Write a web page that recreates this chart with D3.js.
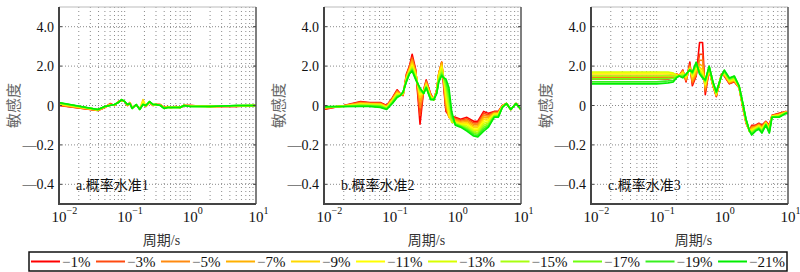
<!DOCTYPE html>
<html>
<head>
<meta charset="utf-8">
<script src="https://cdn.jsdelivr.net/npm/d3@7"></script>
<style>
  html, body { margin: 0; padding: 0; background: #fff; }
  svg { display: block; }
  text { font-family: "Liberation Serif", "Noto Sans CJK SC", serif; }
</style>
</head>
<body>
<div id="chartDiv"></div>
<script>
// probability levels and their colours (red -> yellow -> green)
const levelNames = ["1%", "3%", "5%", "7%", "9%", "11%", "13%", "15%", "17%", "19%", "21%"];
const levelColors = ["#ff0000", "#ff4a10", "#ff8a10", "#ffb000", "#ffd800", "#ffff00", "#d8ff00", "#a8ff10", "#70ff10", "#38f020", "#00ee00"];

const panelTitles = ["a.概率水准1", "b.概率水准2", "c.概率水准3"];
const yTickValues = [-4, -2, 0, 2, 4];
const yTickLabels = ["—0.4", "—0.2", "0", "2.0", "4.0"];
const xTickExps = [-2, -1, 0, 1];

// panel a
const periodsA = [0.01, 0.039, 0.05, 0.06, 0.07, 0.08, 0.09, 0.1, 0.11, 0.12, 0.13, 0.15, 0.17, 0.19, 0.21, 0.24, 0.27, 0.3, 0.35, 0.4, 0.45, 0.5, 0.6, 0.7, 0.8, 1.0, 2, 5, 10];
const sensA = [
  [0.00,-0.25,-0.10, 0.10, 0.00, 0.20, 0.25, 0.20, 0.00, 0.15,-0.10, 0.00,-0.15, 0.10,-0.05, 0.15, 0.00, 0.05, 0.05,-0.10,-0.05,-0.10,-0.05,-0.10, 0.00, 0.00,-0.05,-0.05, 0.00],
  [0.01,-0.25,-0.10, 0.08, 0.00, 0.20, 0.25, 0.20, 0.00, 0.15,-0.10, 0.00,-0.15, 0.10,-0.05, 0.15, 0.00, 0.05, 0.05,-0.10,-0.05,-0.10,-0.05,-0.10, 0.00, 0.00,-0.05,-0.05, 0.00],
  [0.03,-0.24,-0.09, 0.06, 0.01, 0.19, 0.26, 0.20, 0.01, 0.14,-0.11, 0.01,-0.16, 0.09,-0.04, 0.16, 0.01, 0.05, 0.04,-0.11,-0.06,-0.10,-0.06,-0.10, 0.00, 0.00,-0.05,-0.04, 0.00],
  [0.05,-0.24,-0.08, 0.05, 0.02, 0.18, 0.27, 0.20, 0.02, 0.13,-0.12, 0.02,-0.17, 0.08,-0.03, 0.17, 0.02, 0.05, 0.03,-0.12,-0.07,-0.10,-0.07,-0.10, 0.00,-0.01,-0.05,-0.03, 0.00],
  [0.07,-0.23,-0.07, 0.04, 0.03, 0.18, 0.28, 0.20, 0.03, 0.12,-0.13, 0.03,-0.18, 0.30,-0.02, 0.18, 0.03, 0.05, 0.02,-0.13,-0.08,-0.10,-0.08,-0.10, 0.00,-0.02,-0.05,-0.02, 0.00],
  [0.09,-0.22,-0.06, 0.03, 0.03, 0.17, 0.28, 0.20, 0.03, 0.12,-0.13, 0.03,-0.18, 0.20,-0.02, 0.18, 0.03, 0.05, 0.02,-0.13,-0.08,-0.10,-0.08,-0.10, 0.00,-0.03,-0.05,-0.02, 0.00],
  [0.10,-0.22,-0.06, 0.02, 0.04, 0.16, 0.29, 0.20, 0.04, 0.11,-0.14, 0.04,-0.19, 0.08,-0.01, 0.19, 0.04, 0.05, 0.01,-0.14,-0.09,-0.10,-0.09,-0.10, 0.00,-0.04,-0.05,-0.01, 0.00],
  [0.12,-0.21,-0.05, 0.01, 0.04, 0.16, 0.29, 0.20, 0.04, 0.11,-0.14, 0.04,-0.19, 0.07,-0.01, 0.19, 0.04, 0.05, 0.01,-0.14,-0.09,-0.10,-0.09,-0.10, 0.00,-0.04,-0.05,-0.01, 0.00],
  [0.13,-0.21,-0.05, 0.01, 0.05, 0.15, 0.30, 0.20, 0.05, 0.10,-0.15, 0.05,-0.20, 0.06, 0.00, 0.20, 0.05, 0.05, 0.00,-0.15,-0.10,-0.10,-0.10,-0.10, 0.00,-0.05,-0.05, 0.00, 0.00],
  [0.14,-0.20,-0.05, 0.00, 0.05, 0.15, 0.30, 0.20, 0.05, 0.10,-0.15, 0.05,-0.20, 0.05, 0.00, 0.20, 0.05, 0.05, 0.00,-0.15,-0.10,-0.10,-0.10,-0.10, 0.00,-0.05,-0.05, 0.00, 0.00],
  [0.15,-0.20,-0.05, 0.00, 0.05, 0.15, 0.30, 0.20, 0.05, 0.10,-0.15, 0.05,-0.20, 0.05, 0.00, 0.20, 0.05, 0.05, 0.00,-0.15,-0.10,-0.10,-0.10,-0.10, 0.00,-0.05,-0.05, 0.00, 0.00]
];

// panel b
const periodsB = [0.01, 0.02, 0.036, 0.05, 0.072, 0.09, 0.11, 0.13, 0.145, 0.16, 0.18, 0.2, 0.22, 0.25, 0.29, 0.33, 0.36, 0.42, 0.47, 0.52, 0.56, 0.62, 0.67, 0.72, 0.8, 0.88, 1.0, 1.2, 1.5, 1.9, 2.2, 2.7, 3.2, 3.9, 4.5, 5.2, 6.0, 7.0, 8.4, 10];
const sensB = [
  [-0.20, 0.00, 0.20, 0.15, 0.15, 0.00, 0.40, 0.80, 0.60, 0.50, 1.60, 2.00, 2.60, 1.80,-0.95, 0.80, 1.30, 0.60, 0.30, 0.80, 1.60, 2.20, 0.80,-0.30,-0.50,-0.55,-0.60,-0.70,-0.60,-0.80,-0.80,-0.30,-0.40,-0.30,-0.30, 0.00, 0.10,-0.20, 0.10,-0.20],
  [-0.17,-0.01, 0.17, 0.13, 0.12,-0.02, 0.37, 0.76, 0.59, 0.52, 1.55, 1.95, 2.45, 1.75,-0.50, 0.78, 1.25, 0.57, 0.30, 0.78, 1.62, 2.20, 0.95,-0.20,-0.55,-0.60,-0.65,-0.75,-0.67,-0.88,-0.88,-0.40,-0.47,-0.33,-0.33,-0.01, 0.10,-0.20, 0.10,-0.20],
  [-0.15,-0.02, 0.14, 0.11, 0.10,-0.04, 0.34, 0.72, 0.58, 0.54, 1.50, 1.90, 2.35, 1.70,-0.10, 0.75, 1.20, 0.54, 0.30, 0.76, 1.64, 2.20, 1.10,-0.05,-0.60,-0.65,-0.70,-0.80,-0.74,-0.96,-0.96,-0.50,-0.54,-0.36,-0.36,-0.02, 0.10,-0.20, 0.10,-0.20],
  [-0.13,-0.02, 0.11, 0.09, 0.08,-0.06, 0.31, 0.68, 0.57, 0.56, 1.45, 1.85, 2.25, 1.65, 0.20, 0.72, 1.15, 0.51, 0.30, 0.74, 1.62, 2.15, 1.20, 0.15,-0.60,-0.70,-0.75,-0.85,-0.81,-1.04,-1.04,-0.60,-0.61,-0.39,-0.39,-0.03, 0.10,-0.20, 0.10,-0.20],
  [-0.11,-0.03, 0.08, 0.07, 0.06,-0.08, 0.28, 0.64, 0.56, 0.58, 1.40, 1.80, 2.15, 1.60, 0.40, 0.70, 1.10, 0.48, 0.30, 0.72, 1.58, 2.05, 1.28, 0.35,-0.55,-0.75,-0.80,-0.90,-0.88,-1.12,-1.12,-0.70,-0.68,-0.42,-0.42,-0.04, 0.10,-0.20, 0.10,-0.20],
  [-0.10,-0.03, 0.06, 0.05, 0.04,-0.10, 0.25, 0.60, 0.55, 0.60, 1.36, 1.75, 2.05, 1.55, 0.55, 0.68, 1.05, 0.45, 0.30, 0.70, 1.50, 1.95, 1.32, 0.55,-0.40,-0.80,-0.85,-0.95,-0.95,-1.20,-1.20,-0.80,-0.75,-0.45,-0.45,-0.05, 0.10,-0.20, 0.10,-0.20],
  [-0.09,-0.04, 0.04, 0.03, 0.02,-0.12, 0.22, 0.56, 0.54, 0.62, 1.32, 1.71, 1.97, 1.48, 0.65, 0.66, 1.01, 0.41, 0.30, 0.68, 1.42, 1.85, 1.35, 0.75,-0.20,-0.85,-0.88,-0.98,-1.03,-1.27,-1.29,-0.90,-0.83,-0.49,-0.49,-0.06, 0.10,-0.20, 0.10,-0.20],
  [-0.08,-0.04, 0.02, 0.01, 0.00,-0.14, 0.19, 0.52, 0.53, 0.64, 1.29, 1.68, 1.90, 1.42, 0.72, 0.64, 0.97, 0.38, 0.30, 0.66, 1.35, 1.75, 1.37, 0.95, 0.10,-0.75,-0.91,-1.01,-1.11,-1.34,-1.38,-1.00,-0.90,-0.52,-0.52,-0.07, 0.10,-0.20, 0.10,-0.20],
  [-0.07,-0.05, 0.00,-0.01,-0.03,-0.16, 0.16, 0.48, 0.52, 0.66, 1.26, 1.65, 1.84, 1.37, 0.79, 0.62, 0.94, 0.35, 0.30, 0.64, 1.29, 1.65, 1.38, 1.10, 0.40,-0.60,-0.94,-1.04,-1.18,-1.41,-1.46,-1.10,-0.97,-0.55,-0.55,-0.08, 0.10,-0.20, 0.10,-0.20],
  [-0.06,-0.05,-0.03,-0.03,-0.07,-0.18, 0.13, 0.44, 0.51, 0.68, 1.23, 1.62, 1.79, 1.33, 0.85, 0.61, 0.92, 0.32, 0.30, 0.62, 1.24, 1.57, 1.39, 1.25, 0.65,-0.45,-0.97,-1.07,-1.24,-1.48,-1.53,-1.20,-1.04,-0.58,-0.58,-0.09, 0.10,-0.20, 0.10,-0.20],
  [-0.05,-0.05,-0.05,-0.05,-0.10,-0.20, 0.10, 0.40, 0.50, 0.70, 1.20, 1.60, 1.75, 1.30, 0.90, 0.60, 0.90, 0.30, 0.30, 0.60, 1.20, 1.50, 1.40, 1.35, 0.90,-0.30,-1.00,-1.10,-1.30,-1.55,-1.60,-1.30,-1.10,-0.60,-0.60,-0.10, 0.10,-0.20, 0.10,-0.20]
];

// panel c
const periodsC = [0.01, 0.05, 0.1, 0.15, 0.18, 0.2, 0.22, 0.25, 0.28, 0.32, 0.35, 0.4, 0.45, 0.5, 0.55, 0.63, 0.72, 0.81, 0.97, 1.07, 1.28, 1.52, 1.8, 2.0, 2.3, 2.6, 2.8, 3.2, 3.6, 4.0, 4.6, 5.2, 5.7, 7.3, 9.3, 10];
const sensC = [
  [1.35, 1.35, 1.35, 1.35, 1.40, 1.60, 1.50, 1.80, 1.20, 2.20, 1.00, 1.50, 3.20, 3.20, 0.55, 1.80, 1.00, 0.45, 1.60, 1.50, 1.10, 1.20, 0.90, 0.10,-0.90,-1.30,-1.00,-1.00,-0.90,-1.00,-0.80,-1.00,-0.50,-0.40,-0.30,-0.40],
  [1.40, 1.40, 1.40, 1.40, 1.43, 1.60, 1.50, 1.78, 1.25, 2.10, 1.10, 1.55, 2.60, 2.60, 0.70, 1.82, 1.00, 0.48, 1.58, 1.52, 1.12, 1.22, 0.91, 0.12,-0.88,-1.30,-1.05,-1.03,-0.93,-1.04,-0.82,-1.04,-0.51,-0.42,-0.31,-0.40],
  [1.45, 1.45, 1.45, 1.45, 1.46, 1.60, 1.50, 1.75, 1.30, 2.00, 1.20, 1.60, 2.30, 2.30, 0.80, 1.84, 1.02, 0.50, 1.57, 1.55, 1.15, 1.25, 0.92, 0.14,-0.86,-1.30,-1.10,-1.06,-0.96,-1.08,-0.84,-1.08,-0.52,-0.44,-0.32,-0.40],
  [1.50, 1.50, 1.50, 1.50, 1.50, 1.58, 1.50, 1.72, 1.35, 1.95, 1.30, 1.70, 2.10, 2.00, 0.90, 1.86, 1.04, 0.53, 1.56, 1.58, 1.18, 1.28, 0.93, 0.16,-0.84,-1.30,-1.15,-1.09,-0.99,-1.12,-0.86,-1.12,-0.53,-0.46,-0.33,-0.40],
  [1.60, 1.60, 1.60, 1.60, 1.58, 1.56, 1.50, 1.68, 1.40, 1.90, 1.40, 1.80, 1.95, 1.80, 1.00, 1.88, 1.06, 0.56, 1.55, 1.61, 1.21, 1.31, 0.94, 0.18,-0.82,-1.30,-1.20,-1.12,-1.02,-1.16,-0.88,-1.16,-0.54,-0.48,-0.34,-0.40],
  [1.65, 1.65, 1.65, 1.65, 1.62, 1.54, 1.50, 1.64, 1.45, 1.87, 1.48, 1.90, 1.85, 1.66, 1.08, 1.90, 1.08, 0.59, 1.54, 1.64, 1.24, 1.34, 0.95, 0.20,-0.80,-1.30,-1.25,-1.15,-1.05,-1.20,-0.90,-1.20,-0.55,-0.50,-0.35,-0.40],
  [1.70, 1.70, 1.70, 1.70, 1.65, 1.52, 1.50, 1.60, 1.48, 1.85, 1.55, 2.00, 1.78, 1.56, 1.14, 1.92, 1.10, 0.62, 1.53, 1.67, 1.27, 1.37, 0.96, 0.22,-0.78,-1.30,-1.30,-1.18,-1.08,-1.24,-0.92,-1.24,-0.56,-0.52,-0.36,-0.40],
  [1.50, 1.50, 1.50, 1.52, 1.50, 1.48, 1.50, 1.55, 1.52, 1.83, 1.60, 2.08, 1.72, 1.50, 1.20, 1.94, 1.13, 0.64, 1.52, 1.70, 1.31, 1.41, 0.97, 0.24,-0.76,-1.30,-1.35,-1.21,-1.11,-1.28,-0.94,-1.28,-0.57,-0.54,-0.37,-0.40],
  [1.35, 1.35, 1.35, 1.37, 1.38, 1.45, 1.50, 1.50, 1.55, 1.82, 1.64, 2.13, 1.67, 1.46, 1.24, 1.96, 1.16, 0.66, 1.51, 1.73, 1.35, 1.45, 0.98, 0.26,-0.74,-1.30,-1.40,-1.24,-1.14,-1.32,-0.96,-1.32,-0.58,-0.56,-0.38,-0.40],
  [1.20, 1.20, 1.20, 1.25, 1.28, 1.42, 1.50, 1.45, 1.58, 1.81, 1.67, 2.17, 1.63, 1.43, 1.27, 1.98, 1.18, 0.68, 1.50, 1.77, 1.38, 1.48, 0.99, 0.28,-0.72,-1.30,-1.45,-1.27,-1.17,-1.36,-0.98,-1.36,-0.59,-0.58,-0.39,-0.40],
  [1.10, 1.10, 1.10, 1.15, 1.20, 1.40, 1.50, 1.40, 1.60, 1.80, 1.70, 2.20, 1.60, 1.40, 1.30, 2.00, 1.20, 0.70, 1.50, 1.80, 1.40, 1.50, 1.00, 0.30,-0.70,-1.30,-1.50,-1.30,-1.20,-1.40,-1.00,-1.40,-0.60,-0.60,-0.40,-0.40]
];

const panelPeriods = [periodsA, periodsB, periodsC];
const panelSens = [sensA, sensB, sensC];

const W = 800, H = 272;
const panelLefts = [59, 324, 591];
const panelW = 197;
const plotTop = 7, plotBottom = 204;

const svg = d3.select("#chartDiv").append("svg")
  .attr("width", W).attr("height", H);

function drawPanel(idx){
  const x0 = panelLefts[idx];
  const xScale = d3.scaleLog().domain([0.01, 10]).range([x0, x0 + panelW]);
  const yScale = d3.scaleLinear().domain([-5, 5]).range([plotBottom, plotTop]);
  const g = svg.append("g").attr("class", "panel" + idx);

  // dotted grid
  const minorTicks = [];
  for (let e = -2; e < 1; e++) {
    for (let m = 1; m <= 9; m++) minorTicks.push(m * Math.pow(10, e));
  }
  minorTicks.push(10);
  g.selectAll(".vgrid").data(minorTicks.filter(v => v > 0.01 && v < 10)).enter()
    .append("line")
    .attr("x1", d => xScale(d)).attr("x2", d => xScale(d))
    .attr("y1", plotTop).attr("y2", plotBottom)
    .attr("stroke", "#8a8a8a").attr("stroke-width", 1)
    .attr("stroke-dasharray", "1,3");
  g.selectAll(".hgrid").data(yTickValues).enter()
    .append("line")
    .attr("x1", x0).attr("x2", x0 + panelW)
    .attr("y1", d => yScale(d)).attr("y2", d => yScale(d))
    .attr("stroke", "#8a8a8a").attr("stroke-width", 1)
    .attr("stroke-dasharray", "1,2");

  // curves
  const clipId = "clip" + idx;
  g.append("clipPath").attr("id", clipId).append("rect")
    .attr("x", x0).attr("y", plotTop).attr("width", panelW).attr("height", plotBottom - plotTop);
  const periods = panelPeriods[idx];
  const lineFn = d3.line()
    .x((d, i) => xScale(periods[i]))
    .y(d => yScale(d));
  g.append("g").attr("clip-path", `url(#${clipId})`)
    .selectAll("path").data(panelSens[idx]).enter()
    .append("path")
    .attr("d", lineFn)
    .attr("fill", "none")
    .attr("stroke", (d, i) => levelColors[i])
    .attr("stroke-width", 1.6)
    .attr("stroke-linejoin", "round");

  // frame
  g.append("line").attr("x1", x0).attr("x2", x0 + panelW).attr("y1", plotTop).attr("y2", plotTop)
    .attr("stroke", "#bbb").attr("stroke-width", 1);
  g.append("line").attr("x1", x0 + panelW).attr("x2", x0 + panelW).attr("y1", plotTop).attr("y2", plotBottom)
    .attr("stroke", "#555").attr("stroke-width", 1.5);
  g.append("line").attr("x1", x0).attr("x2", x0).attr("y1", plotTop).attr("y2", plotBottom + 1)
    .attr("stroke", "#444").attr("stroke-width", 2);
  g.append("line").attr("x1", x0).attr("x2", x0 + panelW).attr("y1", plotBottom).attr("y2", plotBottom)
    .attr("stroke", "#444").attr("stroke-width", 2);

  // inward y ticks on both sides
  g.selectAll(".ytickL").data(yTickValues).enter().append("line")
    .attr("x1", x0).attr("x2", x0 + 3)
    .attr("y1", d => yScale(d)).attr("y2", d => yScale(d))
    .attr("stroke", "#444").attr("stroke-width", 1);
  g.selectAll(".ytickR").data(yTickValues).enter().append("line")
    .attr("x1", x0 + panelW - 3).attr("x2", x0 + panelW)
    .attr("y1", d => yScale(d)).attr("y2", d => yScale(d))
    .attr("stroke", "#444").attr("stroke-width", 1);

  // y tick labels
  g.selectAll(".ylab").data(yTickValues).enter().append("text")
    .attr("x", x0 - 5)
    .attr("y", d => yScale(d) + 5)
    .attr("text-anchor", "end")
    .attr("font-size", 14)
    .attr("fill", "#111")
    .text((d, i) => yTickLabels[i]);

  // x tick labels 10^n
  xTickExps.forEach(e => {
    const t = g.append("text")
      .attr("x", xScale(Math.pow(10, e)) - 7.5)
      .attr("y", 222)
      .attr("font-size", 15)
      .attr("fill", "#111");
    t.append("tspan").text("10");
    t.append("tspan").attr("dy", -8).attr("font-size", 10)
      .text(e < 0 ? "−" + (-e) : String(e));
  });

  // axis titles
  g.append("text")
    .attr("x", x0 + panelW / 2 + 4)
    .attr("y", 245)
    .attr("text-anchor", "middle")
    .attr("font-size", 14)
    .attr("fill", "#333")
    .text("周期/s");
  g.append("text")
    .attr("transform", `translate(${x0 - 40}, ${(plotTop + plotBottom) / 2}) rotate(-90)`)
    .attr("text-anchor", "middle")
    .attr("font-size", 15)
    .attr("fill", "#666")
    .text("敏感度");

  // panel label
  g.append("text")
    .attr("x", x0 + 17)
    .attr("y", 190)
    .attr("font-size", 14)
    .attr("fill", "#111")
    .text(panelTitles[idx]);
}

[0, 1, 2].forEach(drawPanel);

// legend
function drawLegend(){
  const box = {x: 29, y: 252, w: 758, h: 19};
  const lg = svg.append("g").attr("class", "legend");
  lg.append("rect")
    .attr("x", box.x).attr("y", box.y).attr("width", box.w).attr("height", box.h)
    .attr("fill", "#fff").attr("stroke", "#111").attr("stroke-width", 1.5);

  const lineLen = 29;
  const items = levelNames.map((name, i) => {
    const item = lg.append("g");
    item.append("line")
      .attr("x1", 0).attr("x2", lineLen)
      .attr("y1", box.y + box.h / 2).attr("y2", box.y + box.h / 2)
      .attr("stroke", levelColors[i]).attr("stroke-width", 2);
    const t = item.append("text")
      .attr("x", lineLen + 2)
      .attr("y", box.y + box.h / 2 + 5.5)
      .attr("font-size", 15)
      .attr("fill", "#111");
    t.append("tspan").attr("fill", "#666").text("−");
    t.append("tspan").text(name);
    return {item, width: lineLen + 2 + t.node().getComputedTextLength()};
  });
  const total = d3.sum(items, d => d.width);
  const gap = (box.w - 4 - total) / (items.length - 1);
  let cx = box.x + 2;
  items.forEach(d => {
    d.item.attr("transform", `translate(${cx},0)`);
    cx += d.width + gap;
  });
}
drawLegend();
</script>
</body>
</html>
